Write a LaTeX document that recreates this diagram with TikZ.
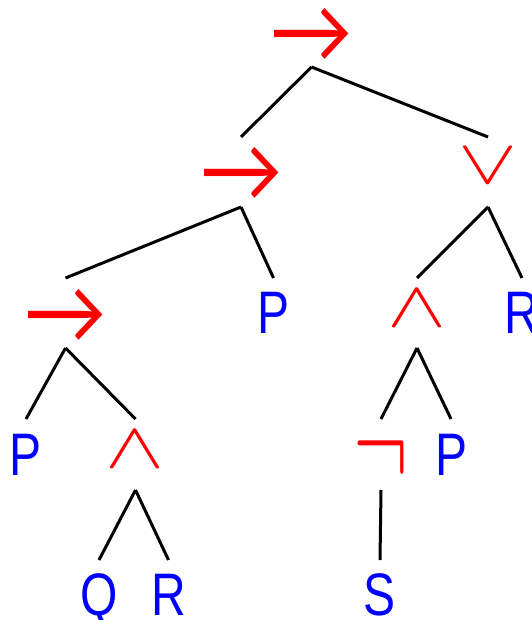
\documentclass[tikz,border=0pt]{standalone}
\usepackage{fontspec}
\setmainfont{Liberation Sans}
\newfontfamily\arrowfont{Lato}
\definecolor{opred}{RGB}{255,0,0}
\definecolor{atomblue}{RGB}{0,0,255}
\tikzset{
  edge/.style={line width=3pt, black},
  atom/.style={inner sep=0pt, outer sep=0pt, anchor=base, text=atomblue,
    font=\fontsize{60}{60}\selectfont},
  conn/.style={inner sep=0pt, outer sep=0pt, text=opred},
}
% condensed atoms and stretched connectives
\newcommand\atomtxt[1]{\scalebox{0.8}[1]{#1}}
\newcommand\impl{\scalebox{1}[1.06]{\arrowfont\fontsize{84}{84}\selectfont →}}
\newcommand\conj{\resizebox{59pt}{36pt}{$\wedge$}}
\newcommand\disj{\resizebox{59pt}{35pt}{$\vee$}}
\newcommand\negsym{\resizebox{55pt}{54pt}{$\neg$}}
\begin{document}
\begin{tikzpicture}[x=1pt, y=-1pt]
\useasboundingbox (0,0) rectangle (531,620);
% levels where edges leave a parent / reach a child
\coordinate (v1) at (0,67);  \coordinate (e1) at (0,137);
\coordinate (v2) at (0,207); \coordinate (e2) at (0,278);
\coordinate (v3) at (0,348); \coordinate (e3) at (0,419);
\coordinate (v4) at (0,490); \coordinate (e4) at (0,560);
% connectives
\node[conn] (top)  at (311.5,35)   {\impl};
\node[conn] (imp2) at (241,174)    {\impl};
\node[conn] (dis)  at (488,166)    {\disj};
\node[conn] (imp3) at (65.5,316)   {\impl};
\node[conn] (conR) at (417,308)    {\conj};
\node[conn] (conL) at (135.5,449)  {\conj};
\node[conn] (neg)  at (381,458)    {\negsym};
% atoms
\node[atom] (p1) at (273.5,333) {\atomtxt{P}};
\node[atom] (r1) at (522,333)   {\atomtxt{R}};
\node[atom] (p2) at (26,475)    {\atomtxt{P}};
\node[atom] (p3) at (451,475)   {\atomtxt{P}};
\node[atom] (q)  at (99,615)    {\atomtxt{Q}};
\node[atom] (r2) at (168.5,615) {\atomtxt{R}};
\node[atom] (s)  at (380,615)   {\atomtxt{S}};
% edges
\draw[edge] (top |- v1) -- (imp2 |- e1);
\draw[edge] (top |- v1) -- (dis |- e1);
\draw[edge] (imp2 |- v2) -- (imp3 |- e2);
\draw[edge] (imp2 |- v2) -- (p1 |- e2);
\draw[edge] (dis |- v2) -- (conR |- e2);
\draw[edge] (dis |- v2) -- (r1 |- e2);
\draw[edge] (imp3 |- v3) -- (p2 |- e3);
\draw[edge] (imp3 |- v3) -- (conL |- e3);
\draw[edge] (conR |- v3) -- (neg |- e3);
\draw[edge] (conR |- v3) -- (p3 |- e3);
\draw[edge] (conL |- v4) -- (q |- e4);
\draw[edge] (conL |- v4) -- (r2 |- e4);
\draw[edge] (neg |- v4) -- (s |- e4);
\end{tikzpicture}
\end{document}
